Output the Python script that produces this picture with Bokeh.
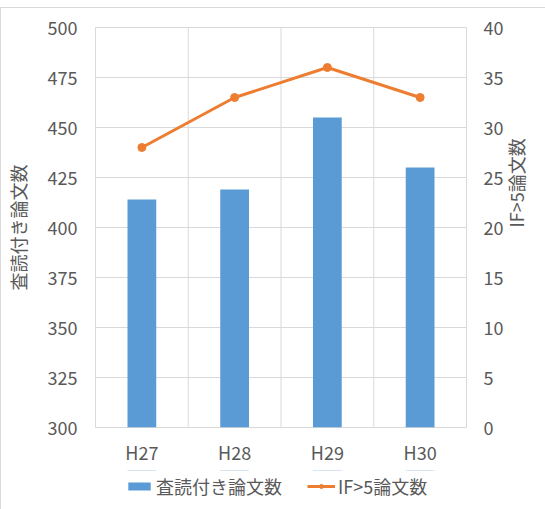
from math import pi

from bokeh.plotting import figure
from bokeh.layouts import column
from bokeh.models import (FactorRange, Range1d, LinearAxis, SingleIntervalTicker,
                          ColumnDataSource, Legend, LegendItem)
from bokeh.transform import dodge
from bokeh.embed import file_html
from bokeh.resources import INLINE

# Data
categories = ["H27", "H28", "H29", "H30"]
reviewed_papers = [414, 419, 455, 430]      # 査読付き論文数 (left axis)
high_if_papers = [28, 33, 36, 33]           # IF>5論文数 (right axis)
series_names = ["査読付き論文数", "IF>5論文数"]

left_range = (300, 500)
right_range = (0, 40)

FONT = "Noto Sans CJK JP"
TEXT_COLOR = "#595959"
GRID_COLOR = "#d9d9d9"
BAR_COLOR = "#5B9BD5"
LINE_COLOR = "#ED7D31"

src = ColumnDataSource(dict(cat=categories, reviewed=reviewed_papers, high_if=high_if_papers))
x_range = FactorRange(*categories)

p = figure(x_range=x_range, y_range=Range1d(*left_range),
           width=544, height=462, output_backend="svg", toolbar_location=None,
           min_border_left=92, min_border_right=77, min_border_top=19, min_border_bottom=43)
p.extra_y_ranges = {"right": Range1d(*right_range)}
p.outline_line_color = GRID_COLOR
p.background_fill_color = "white"
p.border_fill_color = "white"

# grid
p.xgrid.visible = False
left_ticker = SingleIntervalTicker(interval=25)
p.ygrid.ticker = left_ticker
p.ygrid.grid_line_color = GRID_COLOR
p.ygrid.grid_line_width = 1

# vertical separators between categories
sep_src = ColumnDataSource(dict(cat=categories[:-1]))
p.segment(x0=dodge("cat", 0.5, range=x_range), x1=dodge("cat", 0.5, range=x_range),
          y0=left_range[0], y1=left_range[1], source=sep_src,
          line_color=GRID_COLOR, line_width=1, level="underlay")

BAR_STYLE = dict(fill_color=BAR_COLOR, line_color=None)
LINE_STYLE = dict(line_color=LINE_COLOR, line_width=3)
PT_STYLE = dict(size=8, fill_color=LINE_COLOR, line_color=LINE_COLOR)

p.vbar(x="cat", top="reviewed", bottom=left_range[0], width=0.31, source=src, **BAR_STYLE)
p.line(x="cat", y="high_if", source=src, y_range_name="right", **LINE_STYLE)
p.scatter(x="cat", y="high_if", source=src, y_range_name="right", **PT_STYLE)


def style_axis(ax, standoff):
    ax.axis_line_color = None
    ax.major_tick_line_color = None
    ax.minor_tick_line_color = None
    ax.major_tick_out = 0
    ax.major_tick_in = 0
    ax.minor_tick_out = 0
    ax.major_label_standoff = standoff
    ax.major_label_text_font = FONT
    ax.major_label_text_font_size = "18px"
    ax.major_label_text_color = TEXT_COLOR
    ax.axis_label_text_font = FONT
    ax.axis_label_text_font_size = "18px"
    ax.axis_label_text_font_style = "normal"
    ax.axis_label_text_color = TEXT_COLOR


style_axis(p.xaxis[0], 11)
p.yaxis[0].ticker = left_ticker
style_axis(p.yaxis[0], 18)
p.yaxis[0].axis_label = series_names[0]
p.yaxis[0].axis_label_standoff = 14

right_axis = LinearAxis(y_range_name="right", ticker=SingleIntervalTicker(interval=5),
                        axis_label=series_names[1])
style_axis(right_axis, 17)
right_axis.axis_label_standoff = 10
right_axis.axis_label_orientation = pi / 2
p.add_layout(right_axis, "right")

# legend strip below the chart (its frame lines up with the chart frame above);
# the series renderers here sit outside its y range, only their legend swatches show
lp = figure(width=544, height=39, x_range=x_range, y_range=Range1d(-1000, -500),
            output_backend="svg", toolbar_location=None, min_border=0,
            x_axis_location=None, y_axis_location=None)
lp.grid.visible = False
lp.outline_line_color = None
lp.border_fill_color = "white"
leg_bar = lp.vbar(x="cat", top="reviewed", bottom=left_range[0], width=0.31, source=src,
                  **BAR_STYLE)
leg_line = lp.line(x="cat", y="high_if", source=src, **LINE_STYLE)
leg_pt = lp.scatter(x="cat", y="high_if", source=src, **PT_STYLE)

legend = Legend(items=[LegendItem(label=series_names[0], renderers=[leg_bar]),
                       LegendItem(label=series_names[1], renderers=[leg_line, leg_pt])],
                orientation="horizontal", location=(30, 10), padding=0, margin=0,
                spacing=25, glyph_width=28, glyph_height=10, label_standoff=3,
                border_line_color=None, background_fill_alpha=0,
                label_text_font=FONT, label_text_font_size="18px",
                label_text_color=TEXT_COLOR)
lp.add_layout(legend)

page = column(p, lp, spacing=0,
              styles={"margin-top": "7px", "border-top": f"1px solid {GRID_COLOR}",
                      "border-left": f"1px solid {GRID_COLOR}"})

open("out.html", "w").write(file_html(page, INLINE))
